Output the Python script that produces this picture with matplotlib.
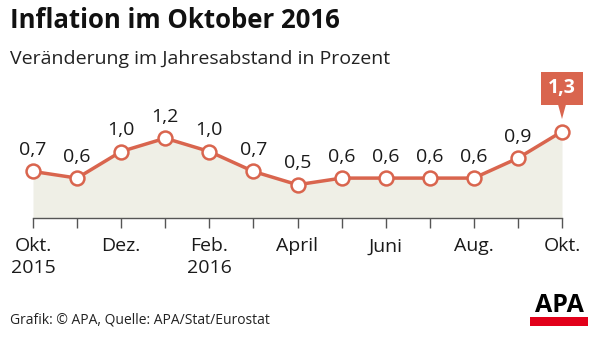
import matplotlib.pyplot as plt
from matplotlib.patches import Rectangle

# data
months = ['Okt.\n2015', '', 'Dez.', '', 'Feb.\n2016', '', 'April', '', 'Juni', '', 'Aug.', '', 'Okt.']
values = [0.7, 0.6, 1.0, 1.2, 1.0, 0.7, 0.5, 0.6, 0.6, 0.6, 0.6, 0.9, 1.3]
value_labels = ['0,7', '0,6', '1,0', '1,2', '1,0', '0,7', '0,5', '0,6', '0,6', '0,6', '0,6', '0,9', '1,3']

line_col = '#d9654e'
fill_col = '#efefe6'
font = 'Open Sans'

fig = plt.figure(figsize=(6, 3.41), dpi=100)
ax = fig.add_axes([33 / 600, (341 - 218) / 341, 529 / 600, 133 / 341])

x = list(range(len(values)))
ax.fill_between(x, 0, values, color=fill_col, lw=0, zorder=1)
ax.plot(x, values, color=line_col, lw=2.5, marker='o', ms=10, mfc='white',
        mec=line_col, mew=1.8, zorder=3, clip_on=False)

for xi, v, lab in zip(x[:-1], values[:-1], value_labels[:-1]):
    ax.annotate(lab, (xi, v), xytext=(0, 9), textcoords='offset points',
                ha='center', va='bottom', fontsize=14, family=font, color='#1a1a1a')

# highlighted last value
xl, vl = x[-1], values[-1]
ax.annotate(value_labels[-1], (xl, vl), xytext=(0, 31), textcoords='offset points',
            ha='center', va='center', fontsize=14, family=font, weight='bold',
            color='white', zorder=5,
            bbox=dict(boxstyle='square,pad=0.35', fc=line_col, ec='none'),
            annotation_clip=False)
ax.annotate('', (xl, vl), xytext=(0, 20), textcoords='offset points', zorder=4,
            arrowprops=dict(arrowstyle='wedge,tail_width=0.6,shrink_factor=0.5',
                            fc=line_col, ec='none', shrinkA=0, shrinkB=9),
            annotation_clip=False)

ax.set_xlim(0, len(values) - 1)
ax.set_ylim(0, 2.0)
ax.set_xticks(x)
ax.set_xticklabels(months, fontsize=14, family=font, color='#1a1a1a', linespacing=1.25)
ax.tick_params(axis='x', length=7, width=1, color='#555555', pad=7)
ax.set_yticks([])
for s in ['top', 'right', 'left']:
    ax.spines[s].set_visible(False)
ax.spines['bottom'].set_color('#555555')
ax.spines['bottom'].set_linewidth(1)

fig.text(10 / 600, 1 - 21 / 341, 'Inflation im Oktober 2016', fontsize=18.5,
         weight='bold', family=font, va='center', color='#111111')
fig.text(10 / 600, 1 - 59 / 341, 'Veränderung im Jahresabstand in Prozent', fontsize=14,
         family=font, va='center', color='#222222')
fig.text(10 / 600, 1 - 320 / 341, 'Grafik: © APA, Quelle: APA/Stat/Eurostat', fontsize=10,
         family=font, va='center', color='#222222')

# APA logo
fig.text(559 / 600, 1 - 306 / 341, 'APA', fontsize=18, weight='bold', family=font,
         ha='center', va='center', color='black')
fig.patches.append(Rectangle((530 / 600, 1 - 326 / 341), 58 / 600, 9 / 341,
                             transform=fig.transFigure, fc='#e2001a', ec='none'))

fig.savefig('out.png', dpi=100)
